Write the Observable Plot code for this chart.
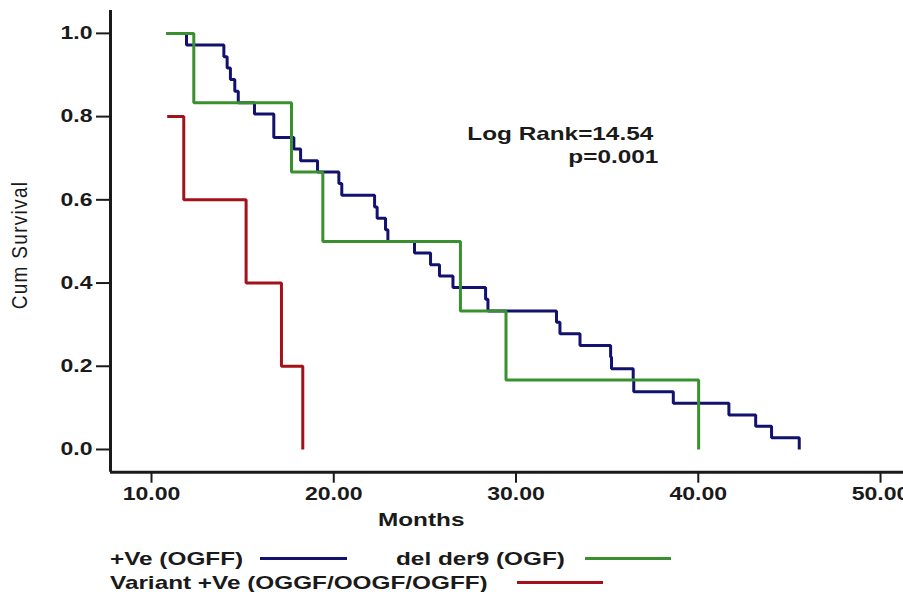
<!DOCTYPE html>
<html>
<head>
<meta charset="utf-8">
<script src="https://cdn.jsdelivr.net/npm/d3@7"></script>
<script src="https://cdn.jsdelivr.net/npm/@observablehq/plot@0.6"></script>
<style>
  html, body { margin: 0; padding: 0; background: #fff; }
  #wrap { position: relative; width: 903px; height: 592px; overflow: hidden; font-family: "Liberation Sans", Arial, sans-serif; color: #1a1a1a; }
  .lbl { position: absolute; white-space: nowrap; font-weight: bold; font-size: 19px; line-height: 19px; }
  .sx { transform: scaleX(1.28); transform-origin: left center; }
  .sxr { transform: scaleX(1.28); transform-origin: right center; }
  .sw { position: absolute; height: 3px; }
</style>
</head>
<body>
<div id="wrap"></div>
<script>
// Months ticks and survival ticks
const xTicks = [10, 20, 30, 40, 50];
const yTicks = [0, 0.2, 0.4, 0.6, 0.8, 1.0];
const xDomain = [7.75, 51.26];
const yDomain = [-0.0546, 1.055];

// +Ve (OGFF)
const blueTimes = [10.82, 11.92, 13.97, 14.15, 14.33, 14.57, 14.76, 15.65, 16.71, 16.71, 17.81, 18.18, 19.11, 20.28, 20.44, 22.24, 22.38, 22.84, 22.97, 24.43, 25.31, 25.80, 26.54, 28.33, 28.46, 32.22, 32.41, 33.51, 35.19, 35.24, 36.43, 36.46, 38.63, 41.68, 43.15, 44.02, 45.54];
const blueSurv = [1.0, 0.972, 0.944, 0.917, 0.889, 0.861, 0.833, 0.806, 0.778, 0.750, 0.722, 0.694, 0.667, 0.639, 0.611, 0.583, 0.556, 0.528, 0.500, 0.472, 0.444, 0.417, 0.389, 0.361, 0.333, 0.306, 0.278, 0.250, 0.222, 0.194, 0.167, 0.139, 0.111, 0.083, 0.056, 0.028, 0.0];

// del der9 (OGF)
const greenTimes = [10.82, 12.32, 17.68, 19.40, 26.95, 29.45, 40.02];
const greenSurv = [1.0, 0.833, 0.667, 0.5, 0.333, 0.167, 0.0];

// Variant +Ve (OGGF/OOGF/OGFF)
const redTimes = [10.86, 11.77, 15.19, 17.13, 18.30];
const redSurv = [0.8, 0.6, 0.4, 0.2, 0.0];

const seriesNames = ["+Ve (OGFF)", "del der9 (OGF)", "Variant +Ve (OGGF/OOGF/OGFF)"];
const seriesColors = ["#12126e", "#3a8f2e", "#a3121b"];

const toRows = (t, s) => t.map((d, i) => ({month: d, surv: s[i]}));
const blue = toRows(blueTimes, blueSurv);
const green = toRows(greenTimes, greenSurv);
const red = toRows(redTimes, redSurv);

const lineOpts = (c) => ({x: "month", y: "surv", curve: "step-after", stroke: c, strokeWidth: 3, strokeLinejoin: "miter", strokeLinecap: "butt"});

const chart = Plot.plot({
  width: 903,
  height: 535,
  marginLeft: 110,
  marginRight: 0,
  marginTop: 10,
  marginBottom: 63.3,
  style: {fontFamily: "'Liberation Sans', Arial, sans-serif", fontSize: "18px", fontWeight: "bold", color: "#1a1a1a", background: "#fff", overflow: "hidden"},
  x: {domain: xDomain},
  y: {domain: yDomain},
  marks: [
    Plot.axisX({ticks: xTicks, tickFormat: d => d.toFixed(2), tickSize: 11, tickPadding: 4, strokeWidth: 2, label: null}),
    Plot.axisY({ticks: yTicks, tickFormat: d => d.toFixed(1), tickSize: 14, tickPadding: 4, strokeWidth: 2, label: null}),
    Plot.ruleY([yDomain[0]], {stroke: "#1a1a1a", strokeWidth: 3}),
    Plot.ruleX([xDomain[0]], {stroke: "#1a1a1a", strokeWidth: 3}),
    Plot.line(blue, lineOpts(seriesColors[0])),
    Plot.line(red, lineOpts(seriesColors[2])),
    Plot.line(green, lineOpts(seriesColors[1]))
  ]
});

const wrap = document.getElementById("wrap");
wrap.appendChild(chart);

// horizontally widen tick labels to match the reference's stretched lettering
d3.select(chart).selectAll("text").each(function() {
  const len = this.getComputedTextLength();
  this.setAttribute("textLength", (len * 1.28).toFixed(1));
  this.setAttribute("lengthAdjust", "spacingAndGlyphs");
});

function addLabel(text, left, top, cls, extraStyle) {
  const d = document.createElement("div");
  d.className = "lbl " + cls;
  d.textContent = text;
  d.style.left = left + "px";
  d.style.top = top + "px";
  if (extraStyle) Object.assign(d.style, extraStyle);
  wrap.appendChild(d);
  return d;
}

// axis titles
addLabel("Months", 378, 509.5, "sx");
const ylab = addLabel("Cum Survival", 0, 0, "", {fontWeight: "normal", fontSize: "19px", letterSpacing: "1.3px"});
ylab.style.left = "20px"; ylab.style.top = "245px";
ylab.style.transform = "translate(-50%, -50%) rotate(-90deg) scaleY(1.15)";

// annotation
const a1 = addLabel("Log Rank=14.54", 0, 124, "sxr");
a1.style.left = "auto"; a1.style.right = (903 - 653) + "px";
const a2 = addLabel("p=0.001", 0, 147, "sxr");
a2.style.left = "auto"; a2.style.right = (903 - 658) + "px";

// legend
addLabel(seriesNames[0], 110, 548.7, "sx");
addLabel(seriesNames[1], 396, 548.7, "sx");
addLabel(seriesNames[2], 110, 572.7, "sx");
function swatch(left, width, top, color) {
  const s = document.createElement("div");
  s.className = "sw";
  s.style.left = left + "px"; s.style.width = width + "px"; s.style.top = top + "px";
  s.style.background = color;
  wrap.appendChild(s);
}
swatch(260, 87, 557, seriesColors[0]);
swatch(585, 86, 557, seriesColors[1]);
swatch(517, 86, 581, seriesColors[2]);
</script>
</body>
</html>
